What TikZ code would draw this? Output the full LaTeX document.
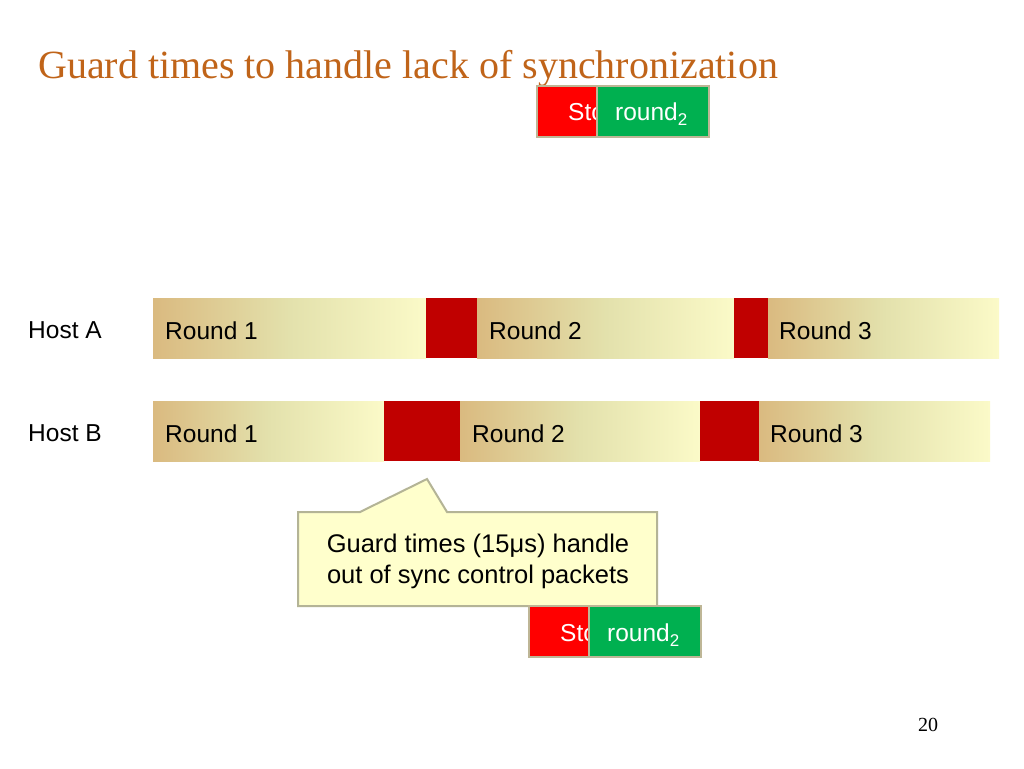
\documentclass[tikz,border=0pt]{standalone}
\usepackage{fontspec}
\setmainfont{Liberation Serif}
\newfontfamily\sansf{Liberation Sans}
\begin{document}
\begin{tikzpicture}[x=1pt,y=-1pt,
  lbl/.style={font=\sansf\fontsize{24.5}{28}\selectfont, inner sep=0pt, anchor=base west, text=black},
  bar/.style={left color=tanL, right color=yelR, middle color=midY, shading angle=90},
  guard/.style={fill=guardred},
  ctl/.style={draw=ctlborder, line width=2pt},
]
\definecolor{tanL}{RGB}{218,186,128}
\definecolor{midY}{RGB}{227,225,172}
\definecolor{yelR}{RGB}{251,250,200}
\definecolor{guardred}{RGB}{192,0,0}
\definecolor{titlecol}{RGB}{192,100,25}
\definecolor{ctlborder}{RGB}{190,182,150}
\definecolor{stopred}{RGB}{255,0,0}
\definecolor{roundgreen}{RGB}{0,176,80}
\definecolor{callfill}{RGB}{255,255,204}
\definecolor{callborder}{RGB}{180,180,150}
\useasboundingbox[fill=white] (0,0) rectangle (1024,768);

% title
\node[font=\fontsize{40}{44}\selectfont, text=titlecol, anchor=base west, inner sep=0pt] (title) at (38,78) {Guard times to handle lack of synchronization};

% Host A
\node[lbl] (hostA) at (28,338) {Host A};
\shade[bar] (153,298) rectangle (426,358);
\fill[guard] (426,298) rectangle (477,358);
\shade[bar] (477,298) rectangle (734,358);
\fill[guard] (734,298) rectangle (768,358);
\shade[bar] (768,298) rectangle (999,358);
\node[lbl] (a1) at (165,339) {Round 1};
\node[lbl] (a2) at (489,339) {Round 2};
\node[lbl] (a3) at (779,339) {Round 3};

% Host B
\node[lbl] (hostB) at (28,441) {Host B};
\shade[bar] (153,401) rectangle (384,461);
\fill[guard] (384,401) rectangle (460,461);
\shade[bar] (460,401) rectangle (700,461);
\fill[guard] (700,401) rectangle (759,461);
\shade[bar] (759,401) rectangle (990,461);
\node[lbl] (b1) at (165,442) {Round 1};
\node[lbl] (b2) at (472,442) {Round 2};
\node[lbl] (b3) at (770,442) {Round 3};

% top control packet
\filldraw[ctl, fill=stopred] (537,86) rectangle (600,137);
\node[lbl, text=white] (stopT) at (568,120) {Stop};
\filldraw[ctl, fill=roundgreen] (597,86) rectangle (709,137);
\node[lbl, text=white] (roundT) at (615,120) {round{\fontsize{17}{20}\selectfont\raisebox{-5pt}{2}}};

% callout
\filldraw[draw=callborder, fill=callfill, line width=2pt, line join=miter]
  (298,512) -- (360,512) -- (427,479) -- (447,512) -- (657,512) -- (657,606) -- (298,606) -- cycle;
\node[font=\sansf\fontsize{25.5}{31}\selectfont, align=center, inner sep=0pt] (call) at (478,561)
  {Guard times (15μs) handle\\out of sync control packets};

% bottom control packet
\filldraw[ctl, fill=stopred] (529,606) rectangle (592,657);
\node[lbl, text=white] (stopB) at (560,641) {Stop};
\filldraw[ctl, fill=roundgreen] (589,606) rectangle (701,657);
\node[lbl, text=white] (roundB) at (607,641) {round{\fontsize{17}{20}\selectfont\raisebox{-5pt}{2}}};

% page number
\node[font=\fontsize{20}{24}\selectfont, anchor=base west, inner sep=0pt] (pg) at (918,731) {20};
\end{tikzpicture}
\end{document}
